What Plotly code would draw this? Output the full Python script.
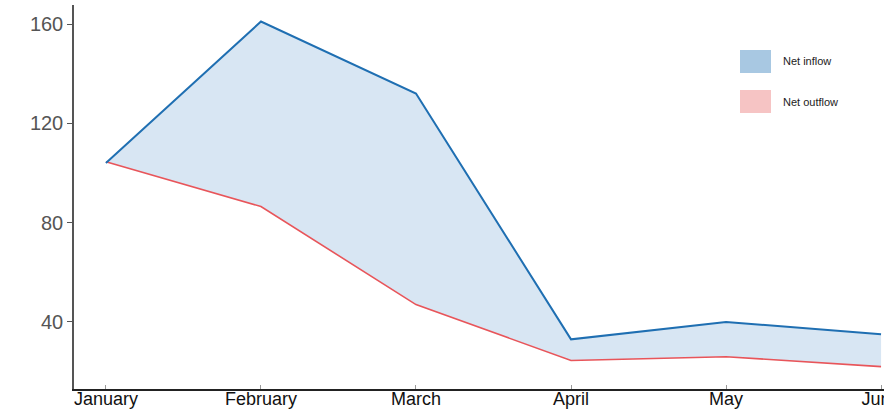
import plotly.graph_objects as go

months = ["January", "February", "March", "April", "May", "June"]
net_inflow = [104, 161, 132, 33, 40, 35]
net_outflow = [104.5, 86.5, 47, 24.5, 26, 22]
y_ticks = [40, 80, 120, 160]
legend_labels = ["Net inflow", "Net outflow"]

BLUE = "#1f6fb2"
RED = "#e8555a"
FILL = "rgba(200,220,238,0.7)"
LEG_BLUE = "#a8c8e2"
LEG_RED = "#f6c4c4"

fig = go.Figure()
fig.add_trace(go.Scatter(x=months, y=net_outflow, mode="lines",
                         line=dict(color=RED, width=1.6), showlegend=False))
fig.add_trace(go.Scatter(x=months, y=net_inflow, mode="lines",
                         line=dict(color=BLUE, width=2), fill="tonexty",
                         fillcolor=FILL, showlegend=False))

W, H = 884, 412
ml, mr, mt, mb = 74, 0, 5, 23
pw, ph = W - ml - mr, H - mt - mb

def px(xp):
    return (xp - ml) / pw

def py(yp):
    return (H - mb - yp) / ph

shapes = []
annotations = []
for i, (lab, col) in enumerate(zip(legend_labels, [LEG_BLUE, LEG_RED])):
    y0 = 50 + i * 40
    shapes.append(dict(type="rect", xref="paper", yref="paper",
                       x0=px(740), x1=px(771), y0=py(y0 + 23), y1=py(y0),
                       fillcolor=col, line=dict(width=0)))
    annotations.append(dict(text=lab, xref="paper", yref="paper",
                            x=px(781), y=py(y0 + 11.5), xanchor="left",
                            yanchor="middle", showarrow=False,
                            font=dict(size=11, color="#222",
                                      family="Liberation Sans, Arial")))

fig.update_layout(
    width=W, height=H,
    margin=dict(l=ml, r=mr, t=mt, b=mb, autoexpand=False),
    plot_bgcolor="white", paper_bgcolor="white",
    shapes=shapes, annotations=annotations,
    font=dict(family="Liberation Sans, Arial"),
)
fig.update_xaxes(range=[-0.206, 5.019], showline=True, linecolor="#222",
                 linewidth=1.5, ticks="inside", ticklen=4, tickcolor="#999",
                 showgrid=False, zeroline=False, automargin=False,
                 ticklabeloverflow="allow", ticklabelstandoff=-7,
                 tickfont=dict(size=18, color="#111"))
fig.update_yaxes(range=[13.0, 167.65], tickvals=y_ticks, showline=True,
                 linecolor="#555", linewidth=1.5, ticks="outside", ticklen=5,
                 tickcolor="#555", showgrid=False, zeroline=False,
                 automargin=False,
                 tickfont=dict(size=20, color="#555"))

fig.write_html("out.html", config={"displayModeBar": False},
               post_script="document.body.style.margin='0';document.body.style.overflow='hidden';")
